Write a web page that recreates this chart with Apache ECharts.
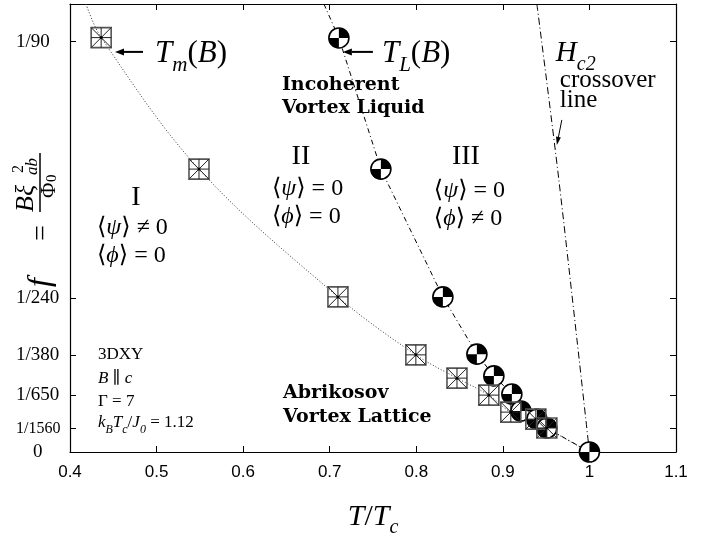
<!DOCTYPE html>
<html><head><meta charset="utf-8">
<script src="https://cdn.jsdelivr.net/npm/echarts@6/dist/echarts.min.js"></script>
<style>html,body{margin:0;padding:0;background:#fff}#c{width:704px;height:537px}</style>
</head><body><div id="c"></div>
<script>
// ---- data ----
// T_m(B): melting points (squares)
const tmT = [0.436, 0.549, 0.7095, 0.7995, 0.847, 0.8838, 0.9092, 0.9381, 0.9508];
const tmF = [0.01122, 0.00766, 0.00420, 0.00263, 0.00200, 0.00154, 0.00108, 0.00089, 0.00065];
// T_L(B): circles
const tlT = [0.7106, 0.7591, 0.8307, 0.870, 0.8896, 0.9104, 0.9208, 0.9393, 0.9508, 1.0];
const tlF = [0.01121, 0.00766, 0.00420, 0.00265, 0.00206, 0.00157, 0.00111, 0.00089, 0.00065, 0];
// guide curves: where they leave the top of the frame and where they end
const tmCurveTop = [0.4185, 0.01213];
const tmCurveEnd = [1.0, 0];
const tlCurveTop = [0.6933, 0.01213];
const hc2T = [0.9393, 0.9647, 1.0];
const hc2F = [0.01213, 0.007366, 0];
// axes
const yTickVals = [0, 1/1560, 1/650, 1/380, 1/240, 1/90];
const yTickText = ['0', '1/1560', '1/650', '1/380', '1/240', '1/90'];
const X_MIN = 0.4, X_MAX = 1.1, X_STEP = 0.1, Y_MAX = 0.01213;

const SERIF = '"Liberation Serif", "DejaVu Serif", serif';
const SANS = '"Liberation Sans", Arial, sans-serif';

const chart = echarts.init(document.getElementById('c'));

const tmPts = tmT.map((t, i) => [t, tmF[i]]);
const tlPts = tlT.map((t, i) => [t, tlF[i]]);

function renderSquare(params, api) {
  const p = api.coord([api.value(0), api.value(1)]);
  const h = 10, x = p[0], y = p[1];
  const st = { stroke: '#222', lineWidth: 1 };
  return {
    type: 'group',
    children: [
      { type: 'rect', shape: { x: x - h, y: y - h, width: 2 * h, height: 2 * h }, style: { fill: 'none', stroke: '#555', lineWidth: 1.6 } },
      { type: 'line', shape: { x1: x - h, y1: y - h, x2: x + h, y2: y + h }, style: st },
      { type: 'line', shape: { x1: x - h, y1: y + h, x2: x + h, y2: y - h }, style: st },
      { type: 'line', shape: { x1: x, y1: y - h, x2: x, y2: y + h }, style: st },
      { type: 'line', shape: { x1: x - h, y1: y, x2: x + h, y2: y }, style: st },
      { type: 'circle', shape: { cx: x, cy: y, r: 1.5 }, style: { fill: '#000' } }
    ]
  };
}
function renderCircle(params, api) {
  const p = api.coord([api.value(0), api.value(1)]);
  const r = 10, x = p[0], y = p[1];
  return {
    type: 'group',
    children: [
      { type: 'circle', shape: { cx: x, cy: y, r: r }, style: { fill: '#fff', stroke: '#000', lineWidth: 1.6 } },
      { type: 'sector', shape: { cx: x, cy: y, r: r, r0: 0, startAngle: -Math.PI / 2, endAngle: 0 }, style: { fill: '#000' } },
      { type: 'sector', shape: { cx: x, cy: y, r: r, r0: 0, startAngle: Math.PI / 2, endAngle: Math.PI }, style: { fill: '#000' } }
    ]
  };
}

function yLabel(v) {
  let best = 0, bd = Infinity;
  yTickVals.forEach((t, i) => { const d = Math.abs(t - v); if (d < bd) { bd = d; best = i; } });
  const s = yTickText[best];
  if (s === '0') return '{z|0}';
  if (s.length > 5) return '{k|' + s + '}';
  return s;
}

const option = {
  animation: false,
  backgroundColor: '#fff',
  grid: { left: 70, right: 28, top: 4, bottom: 85, show: false, outerBoundsMode: 'none', containLabel: false },
  xAxis: [{
    type: 'value', min: X_MIN, max: X_MAX, interval: X_STEP, position: 'bottom',
    axisLine: { show: true, onZero: false, lineStyle: { color: '#000', width: 1.2 } },
    axisTick: { show: true, inside: true, length: 6, lineStyle: { color: '#000' } },
    axisLabel: { color: '#000', fontFamily: SANS, fontSize: 17, margin: 12 },
    splitLine: { show: false },
    name: '{i|T}{n|/}{i|T}{s|c}', nameLocation: 'middle', nameGap: 50,
    nameTextStyle: {
      rich: {
        i: { fontFamily: SERIF, fontStyle: 'italic', fontSize: 30, color: '#000', verticalAlign: 'bottom', padding: [0, 0, 6, 0] },
        n: { fontFamily: SERIF, fontSize: 30, color: '#000', verticalAlign: 'bottom', padding: [0, 0, 6, 0] },
        s: { fontFamily: SERIF, fontStyle: 'italic', fontSize: 20, color: '#000', verticalAlign: 'bottom' }
      }
    }
  }, {
    type: 'value', min: X_MIN, max: X_MAX, interval: X_STEP, position: 'top',
    axisLine: { show: true, onZero: false, lineStyle: { color: '#000', width: 1.2 } },
    axisTick: { show: true, inside: true, length: 6, lineStyle: { color: '#000' } },
    axisLabel: { show: false }, splitLine: { show: false }
  }],
  yAxis: [{
    type: 'value', min: 0, max: Y_MAX, position: 'left',
    axisLine: { show: true, onZero: false, lineStyle: { color: '#000', width: 1.2 } },
    axisTick: { show: true, inside: true, length: 6, customValues: yTickVals, lineStyle: { color: '#000' } },
    axisLabel: {
      customValues: yTickVals, formatter: yLabel, align: 'left', margin: 54,
      color: '#000', fontFamily: SERIF, fontSize: 19,
      rich: {
        z: { fontFamily: SERIF, fontSize: 19, color: '#000', padding: [0, 0, 0, 17] },
        k: { fontFamily: SERIF, fontSize: 16, color: '#000' }
      }
    },
    splitLine: { show: false }
  }, {
    type: 'value', min: 0, max: Y_MAX, position: 'right',
    axisLine: { show: true, onZero: false, lineStyle: { color: '#000', width: 1.2 } },
    axisTick: { show: true, inside: true, length: 6, customValues: yTickVals, lineStyle: { color: '#000' } },
    axisLabel: { show: false }, splitLine: { show: false }
  }],
  series: [
    {
      type: 'line', xAxisIndex: 0, yAxisIndex: 0, showSymbol: false, smooth: 0.35, z: 2,
      data: [tmCurveTop].concat(tmPts, [tmCurveEnd]),
      lineStyle: { color: '#333', width: 1, type: [1, 2] }
    },
    {
      type: 'line', xAxisIndex: 0, yAxisIndex: 0, showSymbol: false, smooth: false, z: 2,
      data: [tlCurveTop].concat(tlPts),
      lineStyle: { color: '#000', width: 1, type: [5, 3, 1, 3] }
    },
    {
      type: 'line', xAxisIndex: 0, yAxisIndex: 0, showSymbol: false, smooth: 0.3, z: 2,
      data: hc2T.map((t, i) => [t, hc2F[i]]),
      lineStyle: { color: '#000', width: 1, type: [7, 3, 1, 3] }
    },
    { type: 'custom', xAxisIndex: 0, yAxisIndex: 0, renderItem: renderCircle, data: tlPts, z: 3, clip: false },
    { type: 'custom', xAxisIndex: 0, yAxisIndex: 0, renderItem: renderSquare, data: tmPts, z: 4, clip: false }
  ]
};
chart.setOption(option);

// ---- annotations (positioned in data coordinates) ----
const P = (x, y) => chart.convertToPixel({ gridIndex: 0 }, [x, y]);
const els = [];
function txt(x, y, text, font, extra) {
  const p = P(x, y);
  els.push(Object.assign({ type: 'text', x: p[0], y: p[1], z: 10,
    style: Object.assign({ text: text, font: font, fill: '#000', align: 'left', verticalAlign: 'middle' }, extra || {}) }));
}
function arrow(x1, y1, x2, y2, lw, L, W) {
  const a = P(x1, y1), b = P(x2, y2);
  const ang = Math.atan2(b[1] - a[1], b[0] - a[0]);
  const bx = b[0] - L * Math.cos(ang), by = b[1] - L * Math.sin(ang);
  els.push({ type: 'line', z: 10, shape: { x1: a[0], y1: a[1], x2: bx, y2: by }, style: { stroke: '#000', lineWidth: lw } });
  els.push({ type: 'polygon', z: 10, shape: { points: [[b[0], b[1]], [bx - W * Math.sin(ang), by + W * Math.cos(ang)], [bx + W * Math.sin(ang), by - W * Math.cos(ang)]] }, style: { fill: '#000' } });
}
const sub = (fs) => ({ fontFamily: SERIF, fontStyle: 'italic', fontSize: fs, verticalAlign: 'bottom' });
function mathRich(big, small) {
  return {
    i: { fontFamily: SERIF, fontStyle: 'italic', fontSize: big, verticalAlign: 'bottom', padding: [0, 0, 7, 0] },
    n: { fontFamily: SERIF, fontSize: big, verticalAlign: 'bottom', padding: [0, 0, 7, 0] },
    s: sub(small)
  };
}

txt(0.4982, 0.010697, '{i|T}{s|m}{n|(}{i|B}{n|)}', null, { rich: mathRich(31, 21) });
arrow(0.4843, 0.010833, 0.452, 0.010833, 2, 9, 3.5);
txt(0.7603, 0.010697, '{i|T}{s|L}{n|(}{i|B}{n|)}', null, { rich: mathRich(31, 21) });
arrow(0.7499, 0.010833, 0.7152, 0.010833, 2, 9, 3.5);

const BOLD = 'bold 19px "DejaVu Serif", serif';
txt(0.6448, 0.009939, 'Incoherent', BOLD);
txt(0.6448, 0.009316, 'Vortex Liquid', BOLD);
txt(0.646, 0.001598, 'Abrikosov', BOLD);
txt(0.646, 0.000948, 'Vortex Lattice', BOLD);

const ROM = '28px ' + SERIF;
txt(0.4762, 0.006879, 'I', ROM, { align: 'center' });
txt(0.6667, 0.007989, 'II', ROM, { align: 'center' });
txt(0.8573, 0.007989, 'III', ROM, { align: 'center' });

const eqRich = { g: { fontFamily: SERIF, fontStyle: 'italic', fontSize: 24 }, n: { fontFamily: SERIF, fontSize: 24 } };
function eq(x, y, sym, rel) {
  txt(x, y, '{n|⟨}{g|' + sym + '}{n|⟩ ' + rel + ' 0}', null, { rich: eqRich });
}
eq(0.4312, 0.006066, 'ψ', '≠');
eq(0.4312, 0.005308, 'ϕ', '=');
eq(0.6333, 0.007122, 'ψ', '=');
eq(0.6333, 0.006364, 'ϕ', '=');
eq(0.8203, 0.007068, 'ψ', '=');
eq(0.8203, 0.00631, 'ϕ', '≠');

const SM = '17px ' + SERIF;
txt(0.4323, 0.002627, '3DXY', SM);
txt(0.4323, 0.001977, '{i|B} ∥ {i|c}', null, { rich: { i: { fontFamily: SERIF, fontStyle: 'italic', fontSize: 17 } }, font: SM });
txt(0.4323, 0.001354, 'Γ = 7', SM);
txt(0.4323, 0.000731, '{i|k}{s|B}{i|T}{s|c}{n|/}{i|J}{s|0}{n| = 1.12}', null, { rich: {
  i: { fontFamily: SERIF, fontStyle: 'italic', fontSize: 17, verticalAlign: 'bottom', padding: [0, 0, 4, 0] },
  n: { fontFamily: SERIF, fontSize: 17, verticalAlign: 'bottom', padding: [0, 0, 4, 0] },
  s: { fontFamily: SERIF, fontStyle: 'italic', fontSize: 12, verticalAlign: 'bottom' } } });

txt(0.9612, 0.010697, '{i|H}{s|c2}', null, { rich: mathRich(29, 20) });
txt(0.9658, 0.010047, 'crossover', '25px ' + SERIF);
txt(0.9658, 0.009506, 'line', '25px ' + SERIF);
arrow(0.9681, 0.008991, 0.9624, 0.008314, 1, 8, 2.5);

// y-axis title, rotated fraction  f = B xi^2_ab / Phi_0
const yt = {
  type: 'group', x: 40, y: 287, rotation: Math.PI / 2, z: 10,
  children: [
    { type: 'text', x: 0, y: 1, style: { text: 'f', font: 'italic 32px ' + SERIF, fill: '#000', align: 'left', verticalAlign: 'middle' } },
    { type: 'text', x: 46, y: 2, style: { text: '=', font: '28px ' + SERIF, fill: '#000', align: 'left', verticalAlign: 'middle' } },
    { type: 'line', shape: { x1: 75, y1: 0, x2: 134, y2: 0 }, style: { stroke: '#000', lineWidth: 1.5 } },
    { type: 'text', x: 75, y: -1, style: { text: 'Bξ', font: 'italic 26px ' + SERIF, fill: '#000', align: 'left', verticalAlign: 'bottom' } },
    { type: 'text', x: 114, y: -13, style: { text: '2', font: '16px ' + SERIF, fill: '#000', align: 'left', verticalAlign: 'bottom' } },
    { type: 'text', x: 112, y: 1, style: { text: 'ab', font: 'italic 17px ' + SERIF, fill: '#000', align: 'left', verticalAlign: 'bottom' } },
    { type: 'text', x: 89, y: -1, style: { text: 'Φ', font: '21px ' + SERIF, fill: '#000', align: 'left', verticalAlign: 'top' } },
    { type: 'text', x: 105, y: 5, style: { text: '0', font: '15px ' + SERIF, fill: '#000', align: 'left', verticalAlign: 'top' } }
  ]
};
els.push(yt);

chart.setOption({ graphic: { elements: els } });
</script>
</body></html>
